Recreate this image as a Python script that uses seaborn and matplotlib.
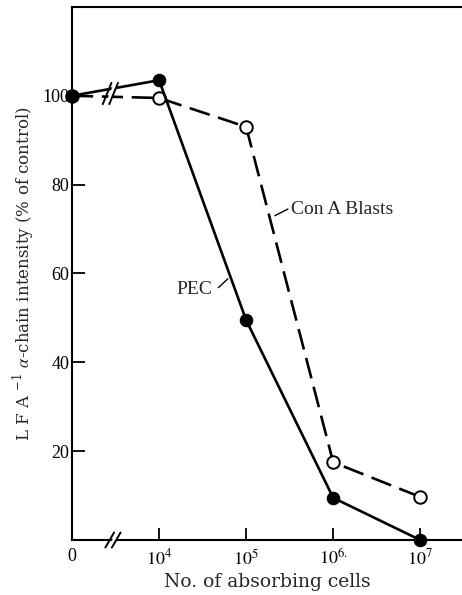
import matplotlib
matplotlib.use("Agg")
import matplotlib.pyplot as plt
import numpy as np
import pandas as pd
import seaborn as sns

# ── data ─────────────────────────────────────────────────────────────────────
cell_pos    = [0, 1, 2, 3, 4]            # 0, 10^4, 10^5, 10^6, 10^7 (broken axis)
tick_labels = ["0", r"$10^4$", r"$10^5$", r"$10^{6.}$", r"$10^7$"]
pec         = [100, 103.5, 49.5, 9.5, 0]
con_a       = [100, 99.5, 93, 17.5, 9.7]

sns.set_theme(style="ticks")
plt.rcParams["font.family"] = ["Liberation Serif", "DejaVu Serif"]
plt.rcParams["mathtext.fontset"] = "stix"

df = pd.DataFrame({"x": cell_pos * 2,
                   "y": pec + con_a,
                   "series": ["PEC"] * 5 + ["Con A Blasts"] * 5})

fig = plt.figure(figsize=(4.62, 5.95), dpi=100)
ax = fig.add_axes([0.156, 0.0924, 0.844, 0.896])

sns.lineplot(data=df[df.series == "Con A Blasts"], x="x", y="y", ax=ax,
             color="black", lw=1.9, marker="o", markersize=9,
             markerfacecolor="white", markeredgecolor="black",
             markeredgewidth=1.4, zorder=3)
ax.lines[-1].set_dashes((8, 3.3))
sns.lineplot(data=df[df.series == "PEC"], x="x", y="y", ax=ax,
             color="black", lw=1.9, marker="o", markersize=9,
             markerfacecolor="black", markeredgecolor="black", zorder=4)
for ln in ax.lines:
    ln.set_clip_on(False)

ax.set_xlim(0, 4.48)
ax.set_ylim(0, 120)
ax.set_xticks(cell_pos)
ax.set_xticklabels(tick_labels)
ax.set_yticks([20, 40, 60, 80, 100])
ax.tick_params(direction="in", length=9, width=1.3, labelsize=13, pad=2,
               colors="black")
ax.tick_params(axis="x", pad=6)
ax.xaxis.get_major_ticks()[0].tick1line.set_visible(False)

for s in ["left", "top", "bottom"]:
    ax.spines[s].set_linewidth(1.5)
    ax.spines[s].set_color("black")
ax.spines["right"].set_visible(False)

ax.set_xlabel("No. of absorbing cells", fontsize=13.5, family="DejaVu Serif",
              labelpad=3)
ax.set_ylabel(r"L F A $^{\mathregular{-1}}$ $\alpha$-chain intensity (% of control)",
              fontsize=12, family="DejaVu Serif", labelpad=4)

# ── axis breaks ──────────────────────────────────────────────────────────────
def axis_break(xc, yc, h):
    dx = 0.075
    poly = plt.Polygon([(xc - dx / 2 - 0.02, yc - h), (xc + dx / 2 - 0.05, yc - h),
                        (xc + dx / 2 + 0.05, yc + h), (xc - dx / 2 + 0.08, yc + h)],
                       closed=True, facecolor="white", edgecolor="none",
                       zorder=5, clip_on=False)
    ax.add_patch(poly)
    for off in (-dx / 2, dx / 2):
        ax.plot([xc + off - 0.05, xc + off + 0.05], [yc - h, yc + h],
                color="black", lw=1.4, zorder=6, clip_on=False)

axis_break(0.47, 0, 1.7)
axis_break(0.44, 100.5, 2.4)

# ── annotations ──────────────────────────────────────────────────────────────
ax.text(1.41, 56.3, "PEC", fontsize=14, ha="center", va="center")
ax.plot([1.68, 1.79], [56.8, 58.8], color="black", lw=1.0)
ax.text(2.51, 74.5, "Con A Blasts", fontsize=14, ha="left", va="center")
ax.plot([2.33, 2.48], [73.0, 74.5], color="black", lw=1.0)

fig.savefig("out.png", dpi=100)
